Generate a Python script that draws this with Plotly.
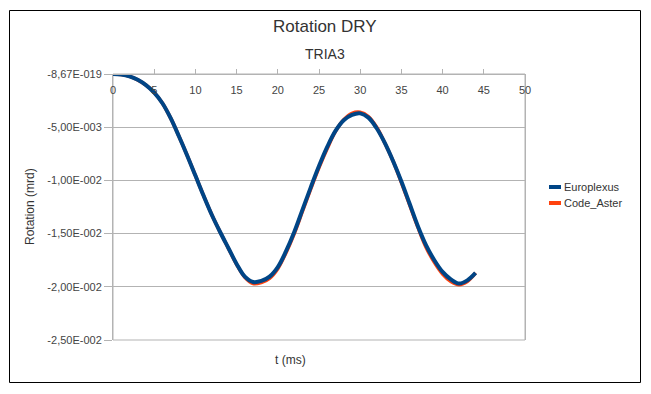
import plotly.graph_objects as go

t_ms = list(range(0, 45))

europlexus = [0.0, -0.00005, -0.00022, -0.00055, -0.00105, -0.00175, -0.00275, -0.00415, -0.00585, -0.00765,
              -0.00955, -0.01145, -0.01325, -0.01485, -0.01635, -0.01785, -0.01905, -0.01955, -0.01945, -0.01905,
              -0.01815, -0.01665, -0.01485, -0.01275, -0.01065, -0.00865, -0.00685, -0.00535, -0.00435, -0.00385,
              -0.0037, -0.0041, -0.0051, -0.0065, -0.0082, -0.0101, -0.0122, -0.0143, -0.0161, -0.0175,
              -0.0186, -0.0193, -0.0197, -0.0194, -0.0187]

code_aster = [0.0, -0.00005, -0.00022, -0.00055, -0.00105, -0.00175, -0.00275, -0.00415, -0.00585, -0.00765,
              -0.00955, -0.01145, -0.01325, -0.01485, -0.01638, -0.0179, -0.0191, -0.0197, -0.0196, -0.0192,
              -0.0183, -0.0168, -0.0150, -0.0129, -0.0108, -0.0088, -0.0070, -0.0054, -0.0043, -0.0037,
              -0.0036, -0.0040, -0.0050, -0.0065, -0.0082, -0.0102, -0.0123, -0.0144, -0.0163, -0.0177,
              -0.0188, -0.0195, -0.0198, -0.0195, -0.0187]

y_tickvals = [0.0, -0.005, -0.01, -0.015, -0.02, -0.025]
y_ticktext = ["-8,67E-019", "-5,00E-003", "-1,00E-002", "-1,50E-002", "-2,00E-002", "-2,50E-002"]
x_tickvals = [0, 5, 10, 15, 20, 25, 30, 35, 40, 45, 50]

series_names = ["Europlexus", "Code_Aster"]
series_colors = ["#004586", "#ff420e"]

FONT = "Liberation Sans, Arial, sans-serif"
GRID = "#b3b3b3"
TXT = "#333333"

fig = go.Figure()
fig.add_trace(go.Scatter(x=t_ms, y=code_aster, mode="lines", name=series_names[1],
                         line=dict(color=series_colors[1], width=3.5, shape="spline", smoothing=1.0),
                         showlegend=False))
fig.add_trace(go.Scatter(x=t_ms, y=europlexus, mode="lines", name=series_names[0],
                         line=dict(color=series_colors[0], width=4, shape="spline", smoothing=1.0),
                         showlegend=False))

# page body has an 8px margin: work in reference pixel coords shifted by OFF
OFF = 8
W, H = 651 - OFF, 394 - OFF
L, R, T, B = 113 - OFF, 651 - 525, 74 - OFF, 394 - 340
pw, ph = W - L - R, H - T - B


def px(xp):
    return (xp - OFF - L) / pw


def py(yp):
    return (H - B - (yp - OFF)) / ph


fig.update_layout(
    width=W, height=H,
    margin=dict(l=L, r=R, t=T, b=B),
    paper_bgcolor="white", plot_bgcolor="white",
    font=dict(family=FONT, color=TXT, size=11),
    showlegend=False,
    xaxis=dict(range=[0, 50], tickvals=x_tickvals, anchor="free", position=1, side="bottom",
               ticks="inside", ticklen=5, tickcolor=GRID, showline=True, linecolor=GRID, linewidth=1,
               showgrid=False, zeroline=False, ticklabelstandoff=6,
               tickfont=dict(size=11, color="#444444")),
    yaxis=dict(range=[-0.025, 0], tickvals=y_tickvals, ticktext=y_ticktext,
               ticks="outside", ticklen=8, tickcolor=GRID, showline=True, linecolor=GRID, mirror=True,
               showgrid=True, gridcolor=GRID, gridwidth=1, zeroline=False,
               tickfont=dict(size=11, color="#444444")),
)

shapes = [
    dict(type="rect", xref="paper", yref="paper", x0=0, x1=1, y0=0, y1=1,
         line=dict(color=GRID, width=1), layer="below"),
    dict(type="rect", xref="paper", yref="paper", x0=px(9.5), x1=px(640.5), y0=py(382.5), y1=py(10.5),
         line=dict(color="black", width=1)),
]
annotations = [
    dict(text="Rotation DRY", xref="paper", yref="paper", x=px(325), y=py(27), showarrow=False,
         font=dict(size=17, color=TXT), xanchor="center", yanchor="middle"),
    dict(text="TRIA3", xref="paper", yref="paper", x=px(325), y=py(54), showarrow=False,
         font=dict(size=14, color=TXT), xanchor="center", yanchor="middle"),
    dict(text="Rotation (mrd)", xref="paper", yref="paper", x=px(30), y=py(207), showarrow=False,
         textangle=-90, font=dict(size=12, color=TXT), xanchor="center", yanchor="middle"),
    dict(text="t (ms)", xref="paper", yref="paper", x=px(290), y=py(360), showarrow=False,
         font=dict(size=12, color=TXT), xanchor="center", yanchor="middle"),
]
legend_y = [187, 203]
for name, color, ly in zip(series_names, series_colors, legend_y):
    shapes.append(dict(type="line", xref="paper", yref="paper", x0=px(549), x1=px(561), y0=py(ly), y1=py(ly),
                       line=dict(color=color, width=4)))
    annotations.append(dict(text=name, xref="paper", yref="paper", x=px(562), y=py(ly), showarrow=False,
                            font=dict(size=11, color=TXT), xanchor="left", yanchor="middle"))

fig.update_layout(shapes=shapes, annotations=annotations)
fig.write_html("out.html")
